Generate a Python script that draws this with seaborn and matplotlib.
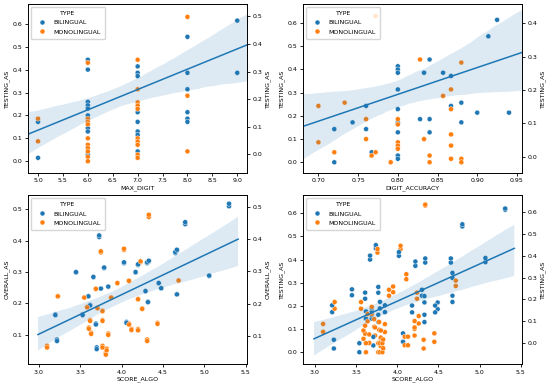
import pandas as pd
import matplotlib
matplotlib.use("Agg")
import matplotlib.pyplot as plt
import seaborn as sns

# MAX_DIGIT / TESTING_AS
md_bi_x = [5, 5, 6, 6, 6, 6, 6, 6, 6, 6, 6, 7, 7, 7, 7, 7, 7, 7, 7, 8, 8, 8, 8, 8, 8, 9, 9]
md_bi_y = [0.172, 0.015, 0.443, 0.40, 0.259, 0.244, 0.23, 0.2, 0.145, 0.13, 0.029,
           0.414, 0.386, 0.372, 0.214, 0.172, 0.13, 0.115, 0.043,
           0.543, 0.386, 0.314, 0.214, 0.186, 0.172, 0.614, 0.386]
md_mo_x = [5, 5, 6, 6, 6, 6, 6, 6, 6, 6, 6, 6, 7, 7, 7, 7, 7, 7, 7, 7, 7, 7, 8, 8, 8]
md_mo_y = [0.186, 0.087, 0.43, 0.186, 0.172, 0.161, 0.10, 0.072, 0.058, 0.043, 0.019, 0.0,
           0.443, 0.314, 0.257, 0.243, 0.229, 0.1, 0.086, 0.072, 0.029, 0.015,
           0.63, 0.286, 0.043]

# DIGIT_ACCURACY / TESTING_AS
da_bi_x = [0.925, 0.914, 0.84, 0.80, 0.80, 0.80, 0.833, 0.857, 0.867, 0.80, 0.88, 0.76, 0.867,
           0.80, 0.90, 0.94, 0.828, 0.84, 0.743, 0.80, 0.88, 0.72, 0.76, 0.80, 0.84, 0.767,
           0.80, 0.80, 0.72]
da_bi_y = [0.614, 0.543, 0.443, 0.414, 0.40, 0.386, 0.386, 0.386, 0.372, 0.314, 0.257, 0.243, 0.243,
           0.229, 0.214, 0.214, 0.186, 0.186, 0.172, 0.172, 0.172, 0.143, 0.143, 0.129, 0.129, 0.043,
           0.029, 0.015, 0.0]
da_mo_x = [0.772, 0.828, 0.88, 0.867, 0.857, 0.733, 0.70, 0.867, 0.76, 0.80, 0.80, 0.867, 0.76,
           0.833, 0.70, 0.80, 0.80, 0.80, 0.867, 0.72, 0.772, 0.767, 0.84, 0.867, 0.88, 0.791,
           0.84, 0.88]
da_mo_y = [0.63, 0.443, 0.43, 0.314, 0.286, 0.257, 0.243, 0.229, 0.186, 0.186, 0.163, 0.12, 0.10,
           0.10, 0.086, 0.086, 0.072, 0.058, 0.072, 0.043, 0.043, 0.029, 0.029, 0.015, 0.015, 0.0,
           0.0, 0.0]

# SCORE_ALGO / OVERALL_AS
so_bi_x = [5.30, 4.77, 4.65, 4.67, 5.06, 3.73, 3.45, 3.79, 3.66, 3.84, 3.75, 4.03, 4.20, 4.17, 4.31,
           4.33, 4.45, 4.48, 4.29, 4.32, 4.67, 3.60, 3.62, 3.20, 3.53, 4.06, 3.69, 3.22, 3.70]
so_bi_y = [0.509, 0.452, 0.36, 0.367, 0.287, 0.411, 0.298, 0.312, 0.283, 0.253, 0.247, 0.328, 0.322,
           0.298, 0.328, 0.333, 0.264, 0.248, 0.239, 0.205, 0.229, 0.223, 0.195, 0.165, 0.165, 0.141,
           0.136, 0.085, 0.060]
so_mo_x = [4.33, 4.03, 3.75, 4.23, 4.09, 3.95, 4.69, 3.69, 3.875, 3.55, 3.23, 4.20, 3.585, 3.71, 4.25,
           3.77, 3.62, 3.77, 4.09, 4.435, 3.605, 3.633, 4.12, 4.20, 3.84, 4.31, 3.10, 3.77, 3.82, 3.81]
so_mo_y = [0.475, 0.370, 0.362, 0.331, 0.271, 0.264, 0.272, 0.246, 0.219, 0.219, 0.223, 0.214, 0.189,
           0.186, 0.184, 0.177, 0.147, 0.147, 0.136, 0.138, 0.123, 0.107, 0.119, 0.118, 0.104, 0.085,
           0.065, 0.065, 0.056, 0.043]

# SCORE_ALGO / TESTING_AS
st_bi_x = [5.31, 4.79, 5.07, 4.65, 4.67, 4.67, 3.74, 3.67, 4.02, 4.22, 4.34, 3.45, 3.61, 3.77, 4.30,
           4.33, 3.79, 3.85, 3.62, 3.69, 3.21, 4.18, 4.33, 4.49, 4.46, 3.77, 4.07, 3.23, 3.54, 3.71, 3.69]
st_bi_y = [0.615, 0.543, 0.389, 0.387, 0.321, 0.217, 0.448, 0.40, 0.416, 0.373, 0.387, 0.246, 0.231,
           0.257, 0.244, 0.215, 0.189, 0.173, 0.145, 0.145, 0.173, 0.172, 0.13, 0.186, 0.172, 0.13,
           0.045, 0.016, 0.0, 0.029, 0.16]
st_mo_x = [4.34, 4.04, 3.76, 4.11, 3.95, 3.90, 4.71, 4.24, 3.24, 3.56, 3.69, 4.26, 4.21, 4.21, 3.10,
           3.64, 3.72, 3.78, 3.85, 3.62, 3.77, 3.79, 3.82, 3.80, 3.83, 3.59, 3.73, 3.61, 3.80, 4.09,
           4.13, 4.32, 4.45, 3.66]
st_mo_y = [0.633, 0.445, 0.43, 0.315, 0.259, 0.244, 0.286, 0.231, 0.188, 0.188, 0.166, 0.124, 0.101,
           0.072, 0.088, 0.133, 0.11, 0.097, 0.087, 0.0, 0.0, 0.0, 0.0, 0.026, 0.017, 0.058, 0.072,
           0.08, 0.058, 0.03, 0.03, 0.016, 0.045, 0.04]


def make_df(xcol, ycol, bx, by, mx, my):
    return pd.DataFrame({
        xcol: bx + mx,
        ycol: by + my,
        "TYPE": ["BILINGUAL"] * len(bx) + ["MONOLINGUAL"] * len(mx),
    })


panels = [
    # data, x, y, twin scatter, line over fixed xlim, xlim, ylim left, ylim right
    (make_df("MAX_DIGIT", "TESTING_AS", md_bi_x, md_bi_y, md_mo_x, md_mo_y),
     "MAX_DIGIT", "TESTING_AS", False, True, (4.8, 9.2), (-0.051, 0.687), (-0.067, 0.545)),
    (make_df("DIGIT_ACCURACY", "TESTING_AS", da_bi_x, da_bi_y, da_mo_x, da_mo_y),
     "DIGIT_ACCURACY", "TESTING_AS", False, True, (0.681, 0.957), (-0.046, 0.683), (-0.048, 0.458)),
    (make_df("SCORE_ALGO", "OVERALL_AS", so_bi_x, so_bi_y, so_mo_x, so_mo_y),
     "SCORE_ALGO", "OVERALL_AS", True, False, (2.87, 5.52), (0.007, 0.545), (0.014, 0.536)),
    (make_df("SCORE_ALGO", "TESTING_AS", st_bi_x, st_bi_y, st_mo_x, st_mo_y),
     "SCORE_ALGO", "TESTING_AS", True, False, (2.86, 5.52), (-0.051, 0.679), (-0.095, 0.677)),
]

plt.rcParams["font.size"] = 4.5
plt.rcParams["axes.linewidth"] = 0.6
palette = {"BILINGUAL": "#1f77b4", "MONOLINGUAL": "#ff7f0e"}

fig, axes = plt.subplots(2, 2, figsize=(5.5, 3.84), dpi=100)
fig.subplots_adjust(left=0.051, right=0.95, top=0.99, bottom=0.052, wspace=0.256, hspace=0.13)

for ax, (df, xc, yc, twin_pts, fixed, xlim, yl, yr) in zip(axes.flat, panels):
    sns.scatterplot(data=df, x=xc, y=yc, hue="TYPE", palette=palette, s=13,
                    linewidth=0.3, ax=ax)
    ax2 = ax.twinx()
    if twin_pts:
        sns.scatterplot(data=df, x=xc, y=yc, hue="TYPE", palette=palette, s=13,
                        linewidth=0.3, ax=ax2, legend=False)
    if fixed:
        ax.set_xlim(xlim)
    sns.regplot(data=df, x=xc, y=yc, scatter=False, truncate=False, seed=0,
                color="#1f77b4", line_kws={"linewidth": 1.1}, ax=ax2)
    ax.set_xlim(xlim)
    ax.set_ylim(yl)
    ax2.set_ylim(yr)
    ax2.set_ylabel(yc)
    ax.legend(title="TYPE", loc="upper left", fontsize=4.5, title_fontsize=4.5,
              markerscale=1.0, borderpad=0.7, labelspacing=0.6, handletextpad=0.8)
    for a in (ax, ax2):
        a.tick_params(length=2.5, width=0.6, pad=1.5)
    ax.xaxis.labelpad = 1.5
    ax.yaxis.labelpad = 2
    ax2.yaxis.labelpad = 2

fig.savefig("out.png", dpi=100)
